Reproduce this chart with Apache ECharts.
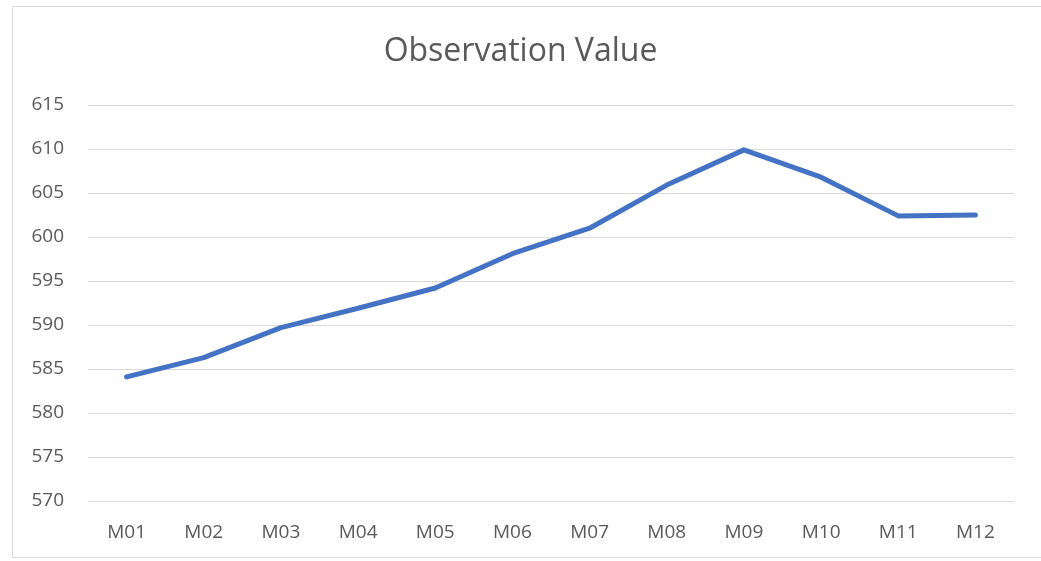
<!DOCTYPE html>
<html>
<head>
<meta charset="utf-8">
<script src="https://cdn.jsdelivr.net/npm/echarts@6/dist/echarts.min.js"></script>
<style>
  html, body { margin: 0; padding: 0; background: #fff; }
  #chart { width: 1041px; height: 561px; }
</style>
</head>
<body>
<div id="chart"></div>
<script>
var months = ['M01', 'M02', 'M03', 'M04', 'M05', 'M06', 'M07', 'M08', 'M09', 'M10', 'M11', 'M12']
var observation = [584.1, 586.3, 589.7, 591.9, 594.2, 598.1, 601.0, 605.9, 609.9, 606.8, 602.4, 602.5]

var chartDom = document.getElementById('chart')
var myChart = echarts.init(chartDom)
var option = {
  backgroundColor: '#fff',
  graphic: [{
    type: 'rect',
    shape: { x: 12.5, y: 6.5, width: 1100, height: 551 },
    style: { fill: 'none', stroke: '#d9d9d9', lineWidth: 1 },
    silent: true
  }],
  title: {
    text: 'Observation Value',
    left: 'center',
    top: 31,
    textStyle: { fontFamily: 'Open Sans', fontSize: 32, fontWeight: 'normal', color: '#595959' }
  },
  grid: { left: 88, right: 27, top: 105, height: 396 },
  xAxis: {
    type: 'category',
    data: months,
    boundaryGap: true,
    axisLine: { show: false },
    axisTick: { show: false },
    axisLabel: { color: '#595959', fontFamily: 'Open Sans', fontSize: 19, margin: 22 }
  },
  yAxis: {
    type: 'value',
    min: 570,
    max: 615,
    interval: 5,
    axisLine: { show: false },
    axisTick: { show: false },
    axisLabel: { color: '#595959', fontFamily: 'Open Sans', fontSize: 19, margin: 24 },
    splitLine: { lineStyle: { color: '#d9d9d9', width: 1 } }
  },
  series: [{
    type: 'line',
    data: observation,
    showSymbol: false,
    lineStyle: { color: '#4472c4', width: 5, cap: 'round', join: 'round' },
    itemStyle: { color: '#4472c4' }
  }]
}
myChart.setOption(option)
</script>
</body>
</html>
